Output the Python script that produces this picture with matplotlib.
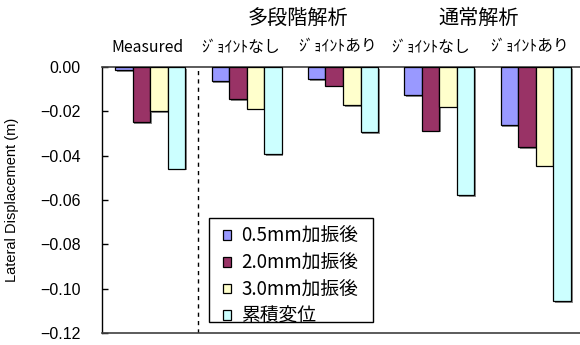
import matplotlib
matplotlib.use("Agg")
import matplotlib.pyplot as plt
import matplotlib.patheffects as pe
from matplotlib.patches import Rectangle
import numpy as np

plt.rcParams['font.family'] = ['Noto Sans CJK JP', 'DejaVu Sans']

categories = ["Measured", "ｼﾞｮｲﾝﾄなし", "ｼﾞｮｲﾝﾄあり", "ｼﾞｮｲﾝﾄなし", "ｼﾞｮｲﾝﾄあり"]
group_titles = ["多段階解析", "通常解析"]
series_names = ["0.5mm加振後", "2.0mm加振後", "3.0mm加振後", "累積変位"]

disp_05 = [-0.0015, -0.0065, -0.0054, -0.0128, -0.0263]
disp_20 = [-0.0249, -0.0144, -0.0084, -0.0287, -0.0362]
disp_30 = [-0.0198, -0.0188, -0.0171, -0.0179, -0.0445]
disp_cum = [-0.0459, -0.0392, -0.0295, -0.0577, -0.1055]

yticks = [0.00, -0.02, -0.04, -0.06, -0.08, -0.10, -0.12]

series = [disp_05, disp_20, disp_30, disp_cum]
colors = ["#9999FF", "#993366", "#FFFFCC", "#CCFFFF"]

W, H = 580, 345
fig = plt.figure(figsize=(5.8, 3.45), dpi=100)
ax_left, ax_bottom, ax_w, ax_h = 102, 333, 482, 266
ax = fig.add_axes([ax_left / W, 1 - ax_bottom / H, ax_w / W, ax_h / H])


def px_to_axes(px, py):
    return (px - ax_left) / ax_w, (ax_bottom - py) / ax_h


x = np.arange(len(categories))
w = 0.182
shadow = [pe.SimplePatchShadow(offset=(1.2, -1.2), shadow_rgbFace="#808080", alpha=0.9), pe.Normal()]
for i, (vals, c, name) in enumerate(zip(series, colors, series_names)):
    bars = ax.bar(x + (i - 1.5) * w, vals, width=w, color=c, edgecolor="black",
                  linewidth=0.9, label=name, zorder=3)
    for b in bars:
        b.set_path_effects(shadow)

ax.set_xlim(-0.5, 4.5)
ax.set_ylim(-0.12, 0.0)
ax.set_yticks(yticks)
ax.set_yticklabels([f"{v:.2f}".replace("-", "\u2212") for v in yticks],
                   family="Liberation Sans", fontsize=11.5)
ax.tick_params(axis="y", direction="in", length=4, width=1, pad=15.5)
ax.set_xticks([])

ax.spines["right"].set_visible(False)
ax.spines["top"].set_linewidth(1.2)
ax.spines["top"].set_color("#404040")
ax.spines["left"].set_linewidth(1.0)
ax.spines["bottom"].set_linewidth(1.2)
ax.spines["bottom"].set_color("#404040")

ax.axvline(0.5, color="black", linestyle=(0, (3, 3)), linewidth=1.0, zorder=2)

# category labels sit just above the frame, group titles above them
label_x = [-0.03, 0.94, 1.94, 2.91, 3.94]
for xi, lab in zip(label_x, categories):
    ax.text(xi, 1.075, lab, transform=ax.get_xaxis_transform(), ha="center", va="center",
            fontsize=11.3)
ax.text(1.53, 1.184, group_titles[0], transform=ax.get_xaxis_transform(), ha="center",
        va="center", fontsize=14.5)
ax.text(3.41, 1.184, group_titles[1], transform=ax.get_xaxis_transform(), ha="center",
        va="center", fontsize=14.5)

ax.set_ylabel("Lateral Displacement (m)", family="Liberation Sans", fontsize=10.5)
ax.yaxis.set_label_coords((19 - ax_left) / ax_w, 0.5)

# legend box drawn separately so the padding can differ horizontally and vertically
bx0, by0 = px_to_axes(209, 322)
bx1, by1 = px_to_axes(373, 218)
ax.add_patch(Rectangle((bx0, by0), bx1 - bx0, by1 - by0, transform=ax.transAxes,
                       facecolor="white", edgecolor="black", linewidth=1.0, zorder=5))
leg = ax.legend(loc="upper left", bbox_to_anchor=px_to_axes(223, 226),
                fontsize=13.5, frameon=False,
                handlelength=0.42, handleheight=0.42, handletextpad=0.55,
                labelspacing=0.3, borderpad=0, borderaxespad=0)
leg.set_zorder(6)
for h in leg.legend_handles:
    h.set_path_effects([])
    h.set_linewidth(0.9)

fig.savefig("out.png", dpi=100)
